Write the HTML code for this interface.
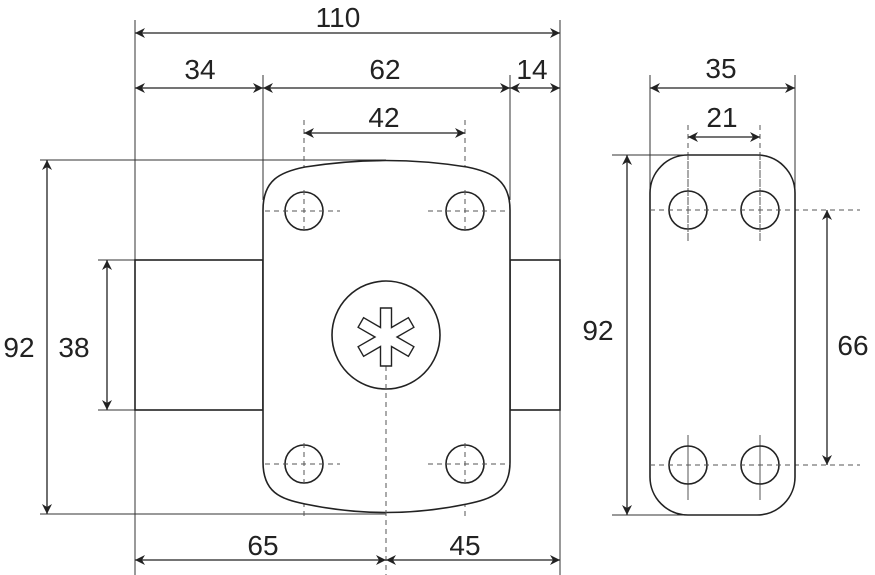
<!DOCTYPE html>
<html><head><meta charset="utf-8"><style>
html,body{margin:0;padding:0;background:#fff;}
svg{display:block;}
text{font-family:"Liberation Sans",sans-serif;font-size:28px;fill:#222;text-anchor:middle;}
</style></head><body>
<svg width="875" height="575" viewBox="0 0 875 575" xmlns="http://www.w3.org/2000/svg">
<defs>
<marker id="a" viewBox="0 0 10 10" refX="10" refY="5" markerWidth="14" markerHeight="10" markerUnits="userSpaceOnUse" orient="auto-start-reverse"><path d="M0,0 L10,5 L0,10 L3,5 Z" fill="#222"/></marker>
</defs>
<g stroke="#333" stroke-width="1" fill="none">
<line x1="135" y1="20" x2="135" y2="575"/>
<line x1="560" y1="20" x2="560" y2="260"/>
<line x1="560" y1="410" x2="560" y2="575"/>
<line x1="263" y1="75" x2="263" y2="200"/>
<line x1="510" y1="75" x2="510" y2="200"/>
<line x1="40" y1="160" x2="386" y2="160"/>
<line x1="40" y1="514" x2="386" y2="514"/>
<line x1="98" y1="260" x2="135" y2="260"/>
<line x1="98" y1="410" x2="135" y2="410"/>
<line x1="650" y1="75" x2="650" y2="190"/>
<line x1="795" y1="75" x2="795" y2="190"/>
<line x1="612" y1="155" x2="720" y2="155"/>
<line x1="612" y1="515" x2="720" y2="515"/>
</g>
<g stroke="#555" stroke-width="1" fill="none" stroke-dasharray="5,4">
<line x1="304" y1="120" x2="304" y2="240"/>
<line x1="465" y1="120" x2="465" y2="240"/>
<line x1="304" y1="430" x2="304" y2="520"/>
<line x1="465" y1="430" x2="465" y2="520"/>
<line x1="386" y1="340" x2="386" y2="575"/>
<line x1="688" y1="125" x2="688" y2="242"/>
<line x1="760" y1="125" x2="760" y2="242"/>
<line x1="688" y1="435" x2="688" y2="500"/>
<line x1="760" y1="435" x2="760" y2="500"/>
<line x1="650" y1="210" x2="860" y2="210"/>
<line x1="650" y1="465" x2="860" y2="465"/>
</g>
<g stroke="#222" stroke-width="1.3" marker-start="url(#a)" marker-end="url(#a)">
<line x1="135" y1="33" x2="560" y2="33"/>
<line x1="135" y1="88" x2="263" y2="88"/>
<line x1="263" y1="88" x2="510" y2="88"/>
<line x1="510" y1="88" x2="560" y2="88"/>
<line x1="304" y1="133" x2="465" y2="133"/>
<line x1="47" y1="160" x2="47" y2="514"/>
<line x1="107" y1="260" x2="107" y2="410"/>
<line x1="135" y1="560" x2="386" y2="560"/>
<line x1="386" y1="560" x2="560" y2="560"/>
<line x1="650" y1="88" x2="795" y2="88"/>
<line x1="688" y1="137" x2="760" y2="137"/>
<line x1="627" y1="155" x2="627" y2="515"/>
<line x1="827" y1="210" x2="827" y2="465"/>
</g>
<g stroke="#222" stroke-width="1.6" fill="none">
<rect x="135" y="260" width="128" height="150"/>
<rect x="510" y="260" width="50" height="150"/>
<path d="M263,210 C263,180 280,172 305,167 Q386,154 467,167 C492,172 510,180 510,210 L510,462 C510,492 492,499 467,504 Q386,521 305,504 C280,499 263,492 263,462 Z" fill="#fff"/>
<circle cx="304" cy="211" r="19"/><circle cx="465" cy="211" r="19"/>
<circle cx="304" cy="464" r="19"/><circle cx="465" cy="464" r="19"/>
<circle cx="386" cy="335" r="54"/>
<rect x="650" y="155" width="145" height="360" rx="38" ry="38"/>
<circle cx="688" cy="210" r="19"/><circle cx="760" cy="210" r="19"/>
<circle cx="688" cy="465" r="19"/><circle cx="760" cy="465" r="19"/>
</g>
<g stroke="#555" stroke-width="1" stroke-dasharray="5,4">
<line x1="265" y1="211" x2="340" y2="211"/>
<line x1="428" y1="211" x2="510" y2="211"/>
<line x1="265" y1="464" x2="340" y2="464"/>
<line x1="428" y1="464" x2="510" y2="464"/>
<line x1="304" y1="190" x2="304" y2="232"/><line x1="465" y1="190" x2="465" y2="232"/>
<line x1="304" y1="443" x2="304" y2="485"/><line x1="465" y1="443" x2="465" y2="485"/>
<line x1="386" y1="366" x2="386" y2="516"/>
<line x1="650" y1="210" x2="795" y2="210"/><line x1="650" y1="465" x2="795" y2="465"/>
<line x1="688" y1="155" x2="688" y2="242"/><line x1="760" y1="155" x2="760" y2="242"/>
<line x1="688" y1="440" x2="688" y2="500"/><line x1="760" y1="440" x2="760" y2="500"/>
</g>
<path d="M380.5,308 L391.5,308 L391.5,327.5 L408.4,317.7 L413.9,327.3 L397,337 L413.9,346.7 L408.4,356.3 L391.5,346.5 L391.5,366 L380.5,366 L380.5,346.5 L363.6,356.3 L358.1,346.7 L375,337 L358.1,327.3 L363.6,317.7 L380.5,327.5 Z" fill="#fff" stroke="#222" stroke-width="1.4"/>
<text x="338" y="27">110</text>
<text x="200" y="79">34</text>
<text x="385" y="79">62</text>
<text x="532" y="79">14</text>
<text x="384" y="127">42</text>
<text x="19" y="357">92</text>
<text x="74" y="357">38</text>
<text x="263" y="555">65</text>
<text x="465" y="555">45</text>
<text x="721" y="78">35</text>
<text x="722" y="127">21</text>
<text x="598" y="340">92</text>
<text x="853" y="355">66</text>
</svg>
</body></html>
